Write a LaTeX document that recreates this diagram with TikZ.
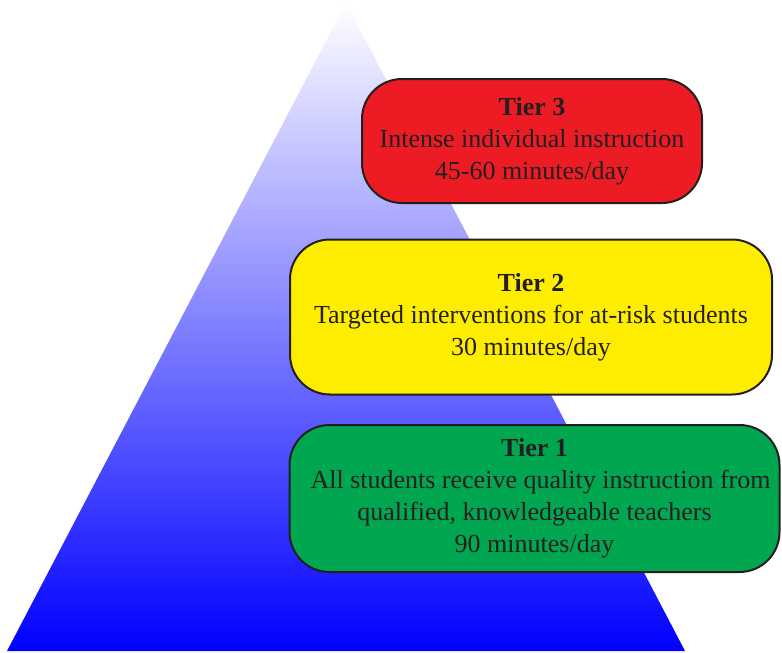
\documentclass[tikz,border=0pt]{standalone}
\usepackage{fontspec}
\setmainfont{Liberation Serif}
\definecolor{tred}{HTML}{ED1C24}
\definecolor{tyellow}{HTML}{FFED00}
\definecolor{tgreen}{HTML}{00A650}
\definecolor{tdark}{HTML}{231F20}
\tikzset{
  tierbox/.style={draw=tdark, line width=2pt, rounded corners=40pt, text=tdark,
    align=center, inner sep=0pt, font=\fontsize{26}{32}\selectfont},
}
\begin{document}
\begin{tikzpicture}[x=1pt,y=-1pt]
\useasboundingbox (0,0) rectangle (782,653);
\shade[top color=white, bottom color=blue] (346,3) -- (685,651) -- (7,651) -- cycle;
\node[tierbox, fill=tred, minimum width=340pt, minimum height=124pt] (t3) at (532,141)
  {\textbf{Tier 3}\\Intense individual instruction\\45-60 minutes/day};
\node[tierbox, fill=tyellow, minimum width=482pt, minimum height=155pt] (t2) at (531,317)
  {\textbf{Tier 2}\\Targeted interventions for at-risk students\hspace{8pt}\\30 minutes/day};
\node[tierbox, fill=tgreen, minimum width=490pt, minimum height=147pt] (t1) at (534.5,498.5)
  {\textbf{Tier 1}\\\hspace{12pt}All students receive quality instruction from\\qualified, knowledgeable teachers\\90 minutes/day};
\end{tikzpicture}
\end{document}
